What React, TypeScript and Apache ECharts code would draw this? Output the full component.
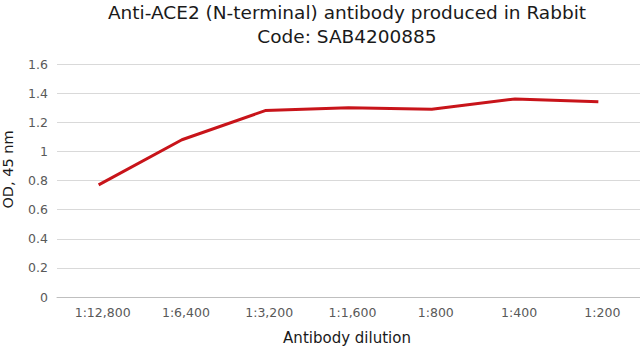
import React, { useEffect, useRef } from "react";
import * as echarts from "echarts";

const categories = ["1:12,800", "1:6,400", "1:3,200", "1:1,600", "1:800", "1:400", "1:200"];
const odValues = [0.77, 1.08, 1.28, 1.3, 1.29, 1.36, 1.34];
const titleLines = ["Anti-ACE2 (N-terminal) antibody produced in Rabbit", "Code: SAB4200885"];
const xAxisTitle = "Antibody dilution";
const yAxisTitle = "OD, 45 nm";

export default function App() {
  const ref = useRef<HTMLDivElement>(null);
  useEffect(() => {
    const chart = echarts.init(ref.current!, null, { renderer: "svg" });
    chart.setOption({
      animation: false,
      backgroundColor: "#ffffff",
      title: {
        text: titleLines.join("\n"),
        left: 347,
        top: 0,
        padding: 0,
        textAlign: "center",
        textStyle: {
          fontFamily: "DejaVu Sans",
          fontSize: 18.5,
          fontWeight: "normal",
          color: "#1a1a1a",
          lineHeight: 24,
        },
      },
      graphic: [
        {
          type: "text",
          x: 347,
          y: 330,
          style: {
            text: xAxisTitle,
            font: "15px 'DejaVu Sans'",
            fill: "#1a1a1a",
            textAlign: "center",
            textVerticalAlign: "top",
          },
        },
      ],
      grid: { left: 57, right: 0, top: 64, bottom: 51, containLabel: false, outerBoundsMode: "none" },
      xAxis: {
        type: "category",
        data: categories,
        boundaryGap: true,
        axisLine: { lineStyle: { color: "#bfbfbf", width: 1 } },
        axisTick: { show: false },
        axisLabel: {
          fontFamily: "DejaVu Sans",
          fontSize: 12.5,
          color: "#595959",
          margin: 9,
          padding: [0, 0, 0, 8],
        },
      },
      yAxis: {
        type: "value",
        min: 0,
        max: 1.6,
        interval: 0.2,
        name: yAxisTitle,
        nameLocation: "middle",
        nameGap: 42,
        nameTextStyle: { fontFamily: "DejaVu Sans", fontSize: 14.5, color: "#1a1a1a", padding: [0, 0, 0, 22] },
        axisLine: { show: false },
        axisTick: { show: false },
        axisLabel: {
          fontFamily: "DejaVu Sans",
          fontSize: 12.5,
          color: "#595959",
          margin: 9,
          formatter: (v: number) => String(Math.round(v * 10) / 10),
        },
        splitLine: { lineStyle: { color: "#d9d9d9", width: 1 } },
      },
      series: [
        {
          type: "line",
          data: odValues,
          symbol: "none",
          lineStyle: { color: "#c8141a", width: 3 },
        },
      ],
    });
    return () => chart.dispose();
  }, []);
  return <div ref={ref} style={{ width: 640, height: 348, position: "absolute", left: 0, top: 0 }} />;
}
